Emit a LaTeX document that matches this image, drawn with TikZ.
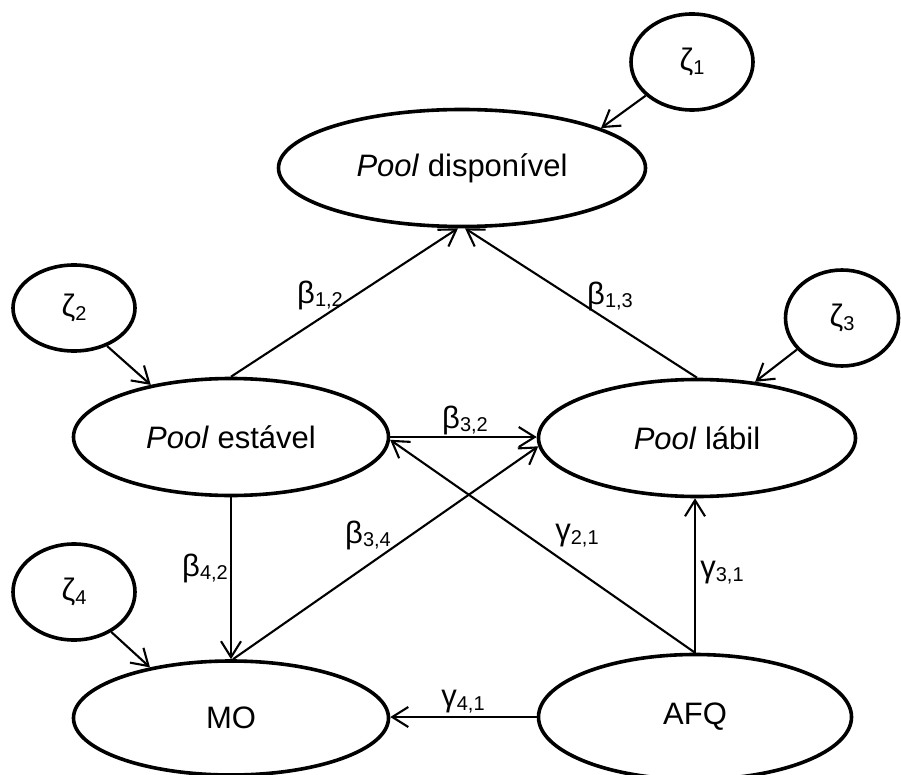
\documentclass[tikz,border=0pt]{standalone}
\usepackage{fontspec}
\setmainfont{Liberation Sans}
\usetikzlibrary{arrows.meta,shapes.geometric}
% coefficient symbol with a lowered, smaller index
\newcommand{\coefsym}[2]{#1\raisebox{-0.12em}{\fontsize{20}{20}\selectfont #2}}
\begin{document}
\begin{tikzpicture}[x=1pt,y=-1pt,
  every node/.style={font=\fontsize{31}{36}\selectfont},
  latent/.style={ellipse, draw, line width=3.6pt, inner sep=0pt},
  pool/.style={latent, minimum width=315pt, minimum height=117pt},
  disturb/.style={latent, minimum width=122pt, minimum height=96pt},
  effect/.style={line width=2.1pt, -{Straight Barb[length=16pt,width=20pt]}},
  coef/.style={inner sep=0pt}]
\useasboundingbox (0,0) rectangle (901,775);

% latent variables
\node[pool, minimum width=367pt, minimum height=117pt] (pd) at (462,168) {\textit{Pool} disponível};
\node[pool] (ps) at (231,437) {\textit{Pool} estável};
\node[pool, minimum width=317pt] (pl) at (697,438) {\textit{Pool} lábil};
\node[pool, minimum height=114pt] (mo) at (231,718) {MO};
\node[pool, minimum width=313pt, minimum height=125pt] (afq) at (695,717) {AFQ};

% disturbance terms
\node[disturb] (z1) at (692,62) {\coefsym{ζ}{1}};
\node[disturb, minimum height=86pt] (z2) at (74,308) {\coefsym{ζ}{2}};
\node[disturb, minimum width=113pt] (z3) at (842,318) {\coefsym{ζ}{3}};
\node[disturb] (z4) at (74,592) {\coefsym{ζ}{4}};

% structural paths
\draw[effect] (ps.north) -- ([xshift=-4pt]pd.south);
\draw[effect] (pl.north) -- ([xshift=3pt]pd.south);
\draw[effect] (ps.east) -- (ps.east -| pl.west);
\draw[effect] (ps.south) -- (mo.north);
\draw[effect] ([xshift=2pt]mo.north) -- (pl.183.5);
\draw[effect] (afq.north) -- (ps.359);
\draw[effect] (afq.north) -- (afq.north |- pl.south);
\draw[effect] (afq.west) -- (afq.west -| mo.east);

% disturbance paths
\draw[effect] (z1.216) -- (pd.16);
\draw[effect] (z2.311) -- (ps.147);
\draw[effect] (z3.215) -- (pl.44);
\draw[effect] (z4.313) -- (mo.148);

% path coefficients
\node[coef] (b12) at (320,295) {\coefsym{β}{1,2}};
\node[coef] (b13) at (610,296) {\coefsym{β}{1,3}};
\node[coef] (b32) at (465,420) {\coefsym{β}{3,2}};
\node[coef] (b34) at (368,535) {\coefsym{β}{3,4}};
\node[coef] (b42) at (205,568) {\coefsym{β}{4,2}};
\node[coef] (g21) at (577,536) {\coefsym{γ}{2,1}};
\node[coef] (g31) at (722,573) {\coefsym{γ}{3,1}};
\node[coef] (g41) at (463,702) {\coefsym{γ}{4,1}};
\end{tikzpicture}
\end{document}
